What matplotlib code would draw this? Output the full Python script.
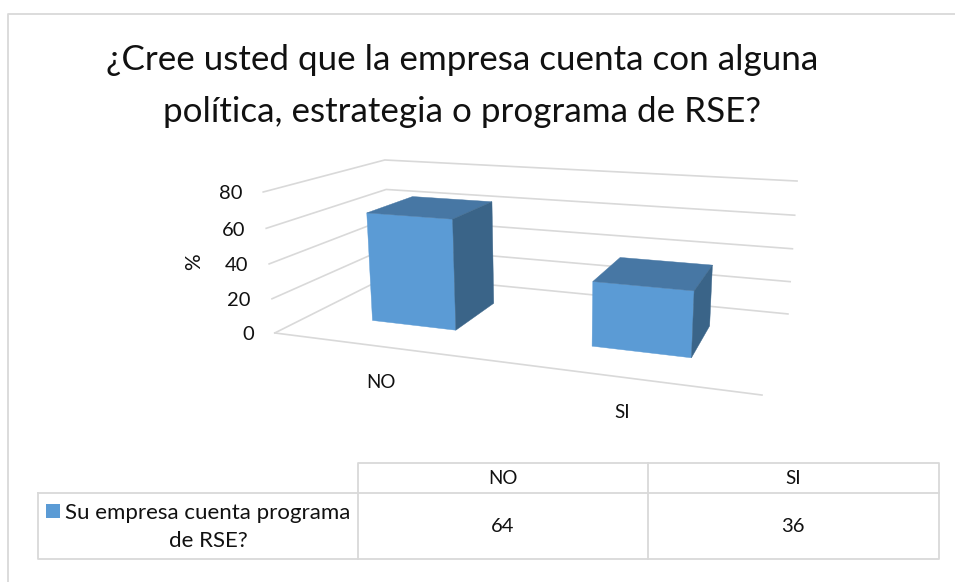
import numpy as np
import matplotlib
matplotlib.use("Agg")
import matplotlib.pyplot as plt
from matplotlib.patches import Polygon, Rectangle

plt.rcParams["font.family"] = ["Lato", "DejaVu Sans"]

TITLE_LINES = ["¿Cree usted que la empresa cuenta con alguna",
               "política, estrategia o programa de RSE?"]
CATEGORIES = ["NO", "SI"]
VALUES = [64, 36]
SERIES_NAME = ["Su empresa cuenta programa", "de RSE?"]
Y_TICKS = [0, 20, 40, 60, 80]
Y_LABEL = "%"

FRONT = "#5B9BD5"
TOP = "#4777A4"
SIDE = "#3A6488"
GRID = "#D9D9D9"
TEXT = "#111111"

# where the plot box corners land in the picture: (x, depth, value) -> pixel
BOX_CORNERS = [
    ((0, 0, 0), (275, 333)), ((2, 0, 0), (762, 395)),
    ((0, 1, 0), (390, 275)), ((2, 1, 0), (788, 314)),
    ((0, 0, 80), (263, 192)), ((0, 1, 80), (385, 160)),
    ((2, 1, 80), (797, 181)),
]
BAR_WIDTH = 0.40
BAR_DEPTH = 0.42


def fit_camera(corners):
    """Least squares fit of a 3x4 projective camera."""
    rows, rhs = [], []
    for (x, d, v), (px, py) in corners:
        rows.append([x, d, v, 1, 0, 0, 0, 0, -px * x, -px * d, -px * v])
        rhs.append(px)
        rows.append([0, 0, 0, 0, x, d, v, 1, -py * x, -py * d, -py * v])
        rhs.append(py)
    sol = np.linalg.lstsq(np.array(rows, float), np.array(rhs, float), rcond=None)[0]
    return np.append(sol, 1).reshape(3, 4)


CAMERA = fit_camera(BOX_CORNERS)


def project(x, d, v):
    u = CAMERA @ np.array([x, d, v, 1.0])
    return u[0] / u[2], u[1] / u[2]


fig = plt.figure(figsize=(9.55, 5.82), dpi=100)
ax = fig.add_axes([0, 0, 1, 1])
ax.set_xlim(0, 955)
ax.set_ylim(582, 0)
ax.axis("off")

# outer frame, only left and top show up
ax.plot([8, 8, 955], [582, 14, 14], color=GRID, lw=1.3)

for line, y in zip(TITLE_LINES, [60, 112]):
    ax.text(462, y, line, fontsize=25.2, ha="center", va="center", color=TEXT)

# walls
for tick in Y_TICKS:
    pts = [project(0, 0, tick), project(0, 1, tick), project(2, 1, tick)]
    ax.plot(*zip(*pts), color=GRID, lw=1.2, zorder=1)
    px, py = pts[0]
    ax.text(px - 21, py + 2, str(tick), fontsize=14.5, ha="right", va="center", color=TEXT)
ax.plot(*zip(project(0, 0, 0), project(2, 0, 0)), color=GRID, lw=1.2, zorder=1)

ax.text(194, 262, Y_LABEL, fontsize=15, rotation=90, ha="center", va="center", color=TEXT)

# bars
for i, val in enumerate(VALUES):
    x0, x1 = i + 0.5 - BAR_WIDTH / 2, i + 0.5 + BAR_WIDTH / 2
    d0, d1 = 0.5 - BAR_DEPTH / 2, 0.5 + BAR_DEPTH / 2
    faces = [
        ([(x0, d0, 0), (x1, d0, 0), (x1, d0, val), (x0, d0, val)], FRONT),
        ([(x0, d0, val), (x1, d0, val), (x1, d1, val), (x0, d1, val)], TOP),
        ([(x1, d0, 0), (x1, d1, 0), (x1, d1, val), (x1, d0, val)], SIDE),
    ]
    for corners, color in faces:
        ax.add_patch(Polygon([project(*c) for c in corners], closed=True, facecolor=color,
                             edgecolor=color, lw=0.3, zorder=3))

ax.text(381, 382, CATEGORIES[0], fontsize=13.5, ha="center", va="center", color=TEXT)
ax.text(622, 413, CATEGORIES[1], fontsize=13.5, ha="center", va="center", color=TEXT)

# data table under the chart
ax.plot([38, 358, 358, 939, 939, 38, 38], [493, 493, 463, 463, 559, 559, 493], color=GRID, lw=1.3)
ax.plot([358, 939], [493, 493], color=GRID, lw=1.3)
ax.plot([358, 358], [493, 559], color=GRID, lw=1.3)
ax.plot([648, 648], [463, 559], color=GRID, lw=1.3)

ax.add_patch(Rectangle((46, 504), 14, 14, facecolor=FRONT, edgecolor="none"))
ax.text(65, 513, SERIES_NAME[0], fontsize=16, ha="left", va="center", color=TEXT)
ax.text(208, 541, SERIES_NAME[1], fontsize=16, ha="center", va="center", color=TEXT)

for cat, val, cx in zip(CATEGORIES, VALUES, [503, 793]):
    ax.text(cx, 479, cat, fontsize=13.5, ha="center", va="center", color=TEXT)
    ax.text(cx, 527, str(val), fontsize=14.5, ha="center", va="center", color=TEXT)

fig.savefig("out.png", dpi=100)
